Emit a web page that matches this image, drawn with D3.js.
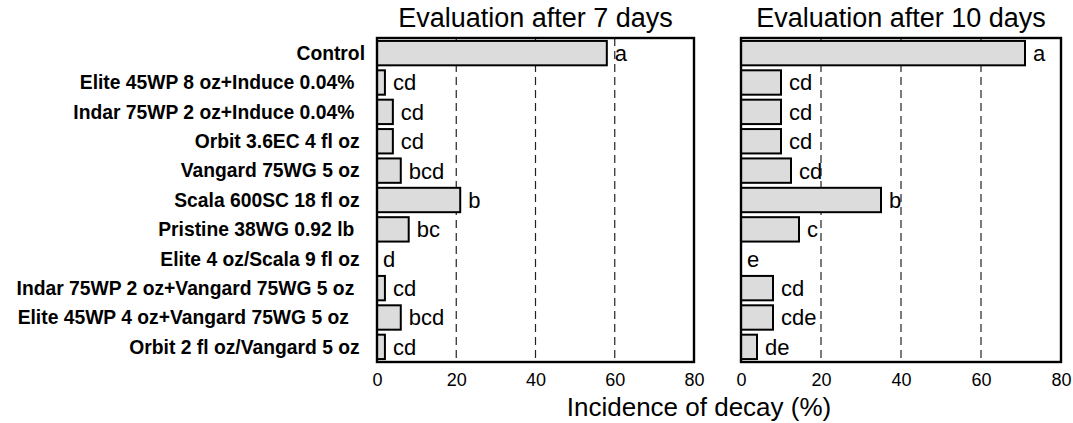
<!DOCTYPE html>
<html>
<head>
<meta charset="utf-8">
<script src="https://cdn.jsdelivr.net/npm/d3@7"></script>
<style>
  body { margin: 0; background: #fff; }
  svg { display: block; font-family: Arial, "Liberation Sans", sans-serif; }
  .cat { font-weight: bold; font-size: 19.3px; white-space: pre; }
  .letter { font-size: 22px; }
  .tick-label { font-size: 18px; }
  .title { font-size: 26px; }
  .panel-title { font-size: 27px; }
</style>
</head>
<body>
<svg id="chart" width="1073" height="423"></svg>
<script>
  // treatments, top to bottom (trailing spaces kept as in the original labels)
  const categories = [
    "Control",
    "Elite 45WP 8 oz+Induce 0.04%  ",
    "Indar 75WP 2 oz+Induce 0.04%  ",
    "Orbit 3.6EC 4 fl oz ",
    "Vangard 75WG 5 oz ",
    "Scala 600SC 18 fl oz ",
    "Pristine 38WG 0.92 lb  ",
    "Elite 4 oz/Scala 9 fl oz ",
    "Indar 75WP 2 oz+Vangard 75WG 5 oz  ",
    "Elite 45WP 4 oz+Vangard 75WG 5 oz   ",
    "Orbit 2 fl oz/Vangard 5 oz ",
  ];

  const day7Values = [58, 2, 4, 4, 6, 21, 8, 0, 2, 6, 2];
  const day7Letters = ["a", "cd", "cd", "cd", "bcd", "b", "bc", "d", "cd", "bcd", "cd"];

  const day10Values = [71, 10, 10, 10, 12.5, 35, 14.5, 0, 8, 8, 4];
  const day10Letters = ["a", "cd", "cd", "cd", "cd", "b", "c", "e", "cd", "cde", "de"];

  const xTicks = [0, 20, 40, 60, 80];
  const gridTicks = [20, 40, 60];

  const TOP = 38;
  const BOTTOM = 362;

  const svg = d3.select("#chart");

  const y = d3
    .scaleBand()
    .domain(categories)
    .range([TOP, BOTTOM])
    .paddingInner(0.17)
    .paddingOuter(0.1);

  svg
    .append("g")
    .selectAll("text")
    .data(categories)
    .join("text")
    .attr("class", "cat")
    .attr("x", 365)
    .attr("y", (d) => y(d) + y.bandwidth() / 2)
    .attr("dy", "0.35em")
    .attr("text-anchor", "end")
    .text((d) => d);

  function drawPanel(left, right, values, letters, title) {
    const x = d3.scaleLinear().domain([0, 80]).range([left, right]);
    const g = svg.append("g");

    g.selectAll("line.grid")
      .data(gridTicks)
      .join("line")
      .attr("class", "grid")
      .attr("x1", x)
      .attr("x2", x)
      .attr("y1", TOP)
      .attr("y2", BOTTOM)
      .attr("stroke", "#222")
      .attr("stroke-width", 1.2)
      .attr("stroke-dasharray", "8,5");

    g.selectAll("rect.bar")
      .data(values)
      .join("rect")
      .attr("class", "bar")
      .attr("x", x(0))
      .attr("y", (d, i) => y(categories[i]))
      .attr("width", (d) => x(d) - x(0))
      .attr("height", y.bandwidth())
      .attr("fill", "#dcdcdc")
      .attr("stroke", "#000")
      .attr("stroke-width", 2);

    g.selectAll("text.letter")
      .data(letters)
      .join("text")
      .attr("class", "letter")
      .attr("x", (d, i) => x(values[i]) + (values[i] > 0 ? 8 : 6))
      .attr("y", (d, i) => y(categories[i]) + y.bandwidth() / 2)
      .attr("dy", "0.36em")
      .text((d) => d);

    g.append("rect")
      .attr("x", left)
      .attr("y", TOP)
      .attr("width", right - left)
      .attr("height", BOTTOM - TOP)
      .attr("fill", "none")
      .attr("stroke", "#000")
      .attr("stroke-width", 2.4);

    const axis = d3.axisBottom(x).tickValues(xTicks).tickSize(0).tickPadding(0);
    const ax = g.append("g").attr("transform", `translate(0,${BOTTOM})`).call(axis);
    ax.select(".domain").remove();
    ax.selectAll("text")
      .attr("class", "tick-label")
      .attr("font-family", null)
      .attr("font-size", null)
      .attr("fill", "#000")
      .attr("dy", null)
      .attr("y", 24);

    g.append("text")
      .attr("class", "panel-title")
      .attr("x", (left + right) / 2)
      .attr("y", 27)
      .attr("text-anchor", "middle")
      .text(title);
  }

  drawPanel(377, 694, day7Values, day7Letters, "Evaluation after 7 days");
  drawPanel(741, 1061, day10Values, day10Letters, "Evaluation after 10 days");

  svg
    .append("text")
    .attr("class", "title")
    .attr("x", 699)
    .attr("y", 416)
    .attr("text-anchor", "middle")
    .text("Incidence of decay (%)");
</script>
</body>
</html>
